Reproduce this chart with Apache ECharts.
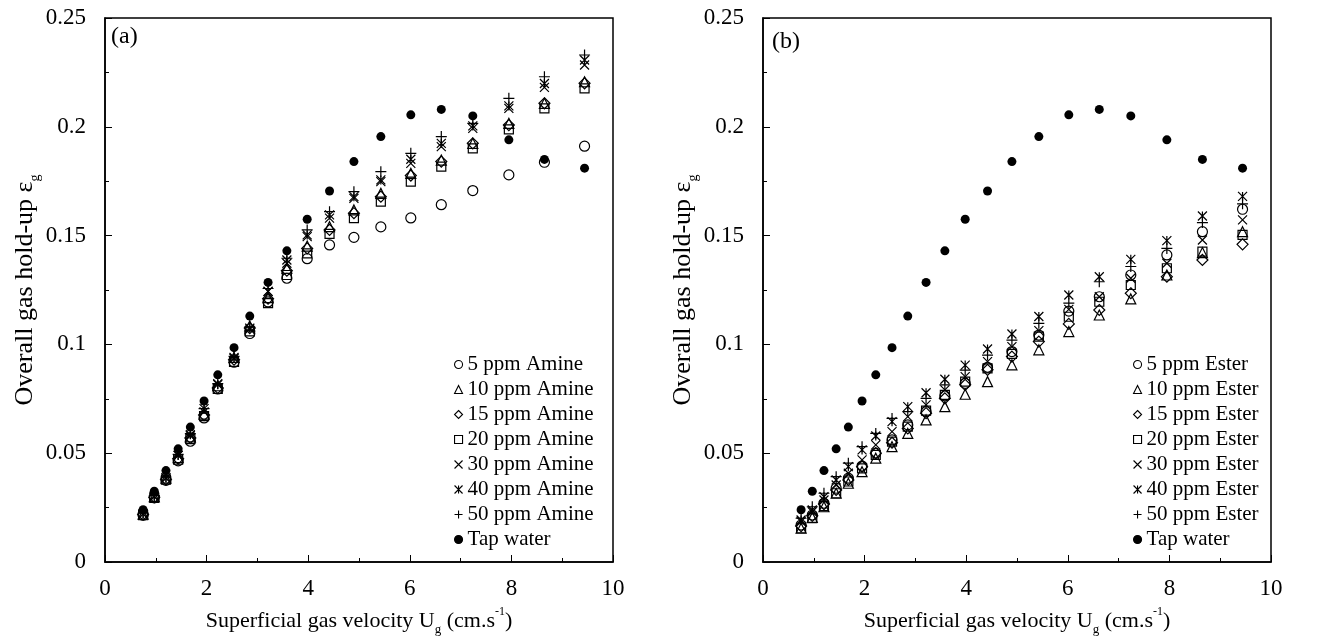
<!DOCTYPE html>
<html>
<head>
<meta charset="utf-8">
<script src="https://cdn.jsdelivr.net/npm/echarts@6/dist/echarts.min.js"></script>
<style>
  html, body { margin: 0; padding: 0; background: #fff; }
  #holdup { width: 1336px; height: 642px; }
</style>
</head>
<body>
<div id="holdup"></div>
<script>
// superficial gas velocity Ug (cm/s), shared by both panels
var ugVel = [0.75, 0.97, 1.2, 1.44, 1.68, 1.95, 2.22, 2.54, 2.85, 3.21, 3.58, 3.98, 4.42, 4.9, 5.43, 6.02, 6.62, 7.24, 7.95, 8.65, 9.44];

var tapWater = [0.0240, 0.0325, 0.0420, 0.0520, 0.0620, 0.0740, 0.0860, 0.0985, 0.1130, 0.1285, 0.1430, 0.1575, 0.1705, 0.1840, 0.1955, 0.2055, 0.2080, 0.2050, 0.1940, 0.1850, 0.1810];

// panel (a) - amine
var amine5  = [0.0215, 0.0295, 0.0375, 0.0465, 0.0555, 0.0662, 0.0795, 0.0918, 0.1050, 0.1195, 0.1304, 0.1394, 0.1457, 0.1492, 0.1540, 0.1581, 0.1642, 0.1707, 0.1779, 0.1837, 0.1911];
var amine10 = [0.0220, 0.0300, 0.0385, 0.0480, 0.0575, 0.0680, 0.0810, 0.0940, 0.1085, 0.1215, 0.1350, 0.1452, 0.1541, 0.1618, 0.1694, 0.1786, 0.1847, 0.1924, 0.2016, 0.2108, 0.2207];
var amine15 = [0.0218, 0.0298, 0.0380, 0.0475, 0.0570, 0.0675, 0.0800, 0.0930, 0.1075, 0.1210, 0.1339, 0.1441, 0.1526, 0.1603, 0.1679, 0.1776, 0.1840, 0.1924, 0.2008, 0.2108, 0.2200];
var amine20 = [0.0215, 0.0295, 0.0378, 0.0470, 0.0565, 0.0670, 0.0795, 0.0920, 0.1060, 0.1190, 0.1319, 0.1418, 0.1508, 0.1580, 0.1656, 0.1748, 0.1817, 0.1901, 0.1988, 0.2085, 0.2177];
var amine30 = [0.0220, 0.0300, 0.0385, 0.0490, 0.0580, 0.0690, 0.0820, 0.0935, 0.1070, 0.1244, 0.1373, 0.1495, 0.1580, 0.1671, 0.1748, 0.1832, 0.1909, 0.1993, 0.2085, 0.2181, 0.2284];
var amine40 = [0.0222, 0.0302, 0.0388, 0.0490, 0.0585, 0.0705, 0.0815, 0.0940, 0.1075, 0.1244, 0.1388, 0.1503, 0.1595, 0.1679, 0.1756, 0.1851, 0.1924, 0.2004, 0.2096, 0.2199, 0.2307];
var amine50 = [0.0225, 0.0305, 0.0390, 0.0495, 0.0590, 0.0705, 0.0820, 0.0945, 0.1080, 0.1257, 0.1396, 0.1526, 0.1610, 0.1702, 0.1794, 0.1878, 0.1955, 0.2016, 0.2131, 0.2230, 0.2330];

// panel (b) - ester
var ester5  = [0.0170, 0.0216, 0.0270, 0.0339, 0.0385, 0.0441, 0.0500, 0.0561, 0.0630, 0.0691, 0.0763, 0.0821, 0.0895, 0.0967, 0.1043, 0.1153, 0.1219, 0.1319, 0.1411, 0.1518, 0.1621];
var ester10 = [0.0155, 0.0205, 0.0254, 0.0316, 0.0362, 0.0415, 0.0477, 0.0530, 0.0591, 0.0653, 0.0714, 0.0771, 0.0829, 0.0906, 0.0975, 0.1059, 0.1135, 0.1209, 0.1319, 0.1422, 0.1518];
var ester15 = [0.0165, 0.0212, 0.0266, 0.0331, 0.0377, 0.0438, 0.0500, 0.0548, 0.0614, 0.0684, 0.0752, 0.0814, 0.0883, 0.0944, 0.1013, 0.1094, 0.1158, 0.1235, 0.1311, 0.1388, 0.1460];
var ester20 = [0.0155, 0.0201, 0.0257, 0.0316, 0.0370, 0.0430, 0.0492, 0.0553, 0.0622, 0.0696, 0.0768, 0.0829, 0.0890, 0.0956, 0.1036, 0.1127, 0.1196, 0.1273, 0.1350, 0.1426, 0.1503];
var ester30 = [0.0186, 0.0231, 0.0285, 0.0354, 0.0408, 0.0469, 0.0538, 0.0599, 0.0668, 0.0722, 0.0791, 0.0852, 0.0921, 0.0990, 0.1063, 0.1161, 0.1219, 0.1304, 0.1373, 0.1480, 0.1572];
var ester40 = [0.0193, 0.0239, 0.0300, 0.0377, 0.0438, 0.0515, 0.0579, 0.0645, 0.0714, 0.0778, 0.0840, 0.0905, 0.0979, 0.1048, 0.1128, 0.1227, 0.1311, 0.1391, 0.1477, 0.1590, 0.1680];
var ester50 = [0.0201, 0.0254, 0.0316, 0.0392, 0.0454, 0.0530, 0.0591, 0.0660, 0.0691, 0.0752, 0.0814, 0.0882, 0.0951, 0.1020, 0.1097, 0.1190, 0.1288, 0.1358, 0.1441, 0.1560, 0.1646];

var doses = ['5', '10', '15', '20', '30', '40', '50'];
var amineSets = [amine5, amine10, amine15, amine20, amine30, amine40, amine50];
var esterSets = [ester5, ester10, ester15, ester20, ester30, ester40, ester50];

var FONT = '"Liberation Serif", "Times New Roman", serif';

// marker per dose, in legend order
var markers = [
  { symbol: 'circle', size: 10 },
  { symbol: 'triangle', size: 10 },
  { symbol: 'diamond', size: 11 },
  { symbol: 'rect', size: 9 },
  { symbol: 'path://M0,0L10,10M10,0L0,10', size: 9 },
  { symbol: 'path://M0,0L10,10M10,0L0,10M5,0L5,10', size: 9 },
  { symbol: 'path://M5,0L5,10M0,5L10,5', size: 11 }
];

function pairs(ys) {
  var out = [];
  for (var i = 0; i < ugVel.length; i++) {
    out.push([ugVel[i], ys[i]]);
  }
  return out;
}

function makeSeries(sets, label, idx) {
  var list = [];
  for (var i = 0; i < sets.length; i++) {
    list.push({
      name: doses[i] + ' ppm ' + label,
      type: 'scatter',
      xAxisIndex: idx,
      yAxisIndex: idx,
      symbol: markers[i].symbol,
      symbolSize: markers[i].size,
      itemStyle: { color: 'rgba(0,0,0,0)', borderColor: '#000', borderWidth: 1.2, opacity: 1 },
      data: pairs(sets[i])
    });
  }
  list.push({
    name: 'Tap water',
    type: 'scatter',
    xAxisIndex: idx,
    yAxisIndex: idx,
    symbol: 'circle',
    symbolSize: 9,
    itemStyle: { color: '#000', borderColor: '#000', borderWidth: 0, opacity: 1 },
    data: pairs(tapWater)
  });
  return list;
}

function legendNames(label) {
  var names = [];
  for (var i = 0; i < doses.length; i++) names.push(doses[i] + ' ppm ' + label);
  names.push('Tap water');
  return names;
}

var xRich = {
  m: { fontFamily: FONT, fontSize: 22, color: '#000', lineHeight: 30, verticalAlign: 'middle' },
  s: { fontFamily: FONT, fontSize: 13, color: '#000', lineHeight: 30, verticalAlign: 'bottom' },
  p: { fontFamily: FONT, fontSize: 12, color: '#000', lineHeight: 30, verticalAlign: 'top' }
};
var yRich = {
  m: { fontFamily: FONT, fontSize: 26, color: '#000', lineHeight: 34, verticalAlign: 'middle' },
  s: { fontFamily: FONT, fontSize: 14, color: '#000', lineHeight: 34, verticalAlign: 'bottom' }
};

function xAxisFor(idx) {
  return {
    type: 'value', gridIndex: idx, min: 0, max: 10, interval: 2,
    name: '{m|Superficial gas velocity U}{s|g}{m| (cm.s}{p|-1}{m|)}',
    nameLocation: 'middle', nameGap: 44,
    nameTextStyle: { rich: xRich },
    axisLine: { show: true, lineStyle: { color: '#000', width: 1.5 } },
    axisTick: { inside: true, length: 7, lineStyle: { color: '#000' } },
    minorTick: { show: true, splitNumber: 2, length: 4, lineStyle: { color: '#000' } },
    splitLine: { show: false },
    axisLabel: { color: '#000', fontFamily: FONT, fontSize: 23, margin: 15 }
  };
}

function yAxisFor(idx) {
  return {
    type: 'value', gridIndex: idx, min: 0, max: 0.25, interval: 0.05,
    name: '{m|Overall gas hold-up \u03b5}{s|g}',
    nameLocation: 'middle', nameGap: 56,
    nameTextStyle: { rich: yRich },
    axisLine: { show: true, lineStyle: { color: '#000', width: 1.5 } },
    axisTick: { inside: true, length: 7, lineStyle: { color: '#000' } },
    minorTick: { show: true, splitNumber: 2, length: 4, lineStyle: { color: '#000' } },
    splitLine: { show: false },
    axisLabel: { color: '#000', fontFamily: FONT, fontSize: 23, margin: 19 }
  };
}

function legendFor(left, label) {
  return {
    orient: 'vertical', left: left, top: 347,
    itemWidth: 8, itemHeight: 8, itemGap: 0,
    selectedMode: false,
    data: legendNames(label),
    itemStyle: { borderWidth: 1.1 },
    textStyle: { fontFamily: FONT, fontSize: 21, color: '#000', lineHeight: 25 }
  };
}

var dom = document.getElementById('holdup');
var myChart = echarts.init(dom);
var option = null;

option = {
  animation: false,
  backgroundColor: '#fff',
  title: [
    { text: '(a)', left: 111, top: 25, padding: 0, textStyle: { fontFamily: FONT, fontSize: 24, fontWeight: 'normal', color: '#000' } },
    { text: '(b)', left: 772, top: 30, padding: 0, textStyle: { fontFamily: FONT, fontSize: 24, fontWeight: 'normal', color: '#000' } }
  ],
  grid: [
    { left: 105, top: 18, width: 508, height: 544, show: true, borderColor: '#000', borderWidth: 1.5 },
    { left: 763, top: 18, width: 508, height: 544, show: true, borderColor: '#000', borderWidth: 1.5 }
  ],
  legend: [legendFor(449, 'Amine'), legendFor(1128, 'Ester')],
  xAxis: [xAxisFor(0), xAxisFor(1)],
  yAxis: [yAxisFor(0), yAxisFor(1)],
  series: makeSeries(amineSets, 'Amine', 0).concat(makeSeries(esterSets, 'Ester', 1))
};

// Invoke
if (option && typeof option === 'object') {
  myChart.setOption(option, true);
}
</script>
</body>
</html>
